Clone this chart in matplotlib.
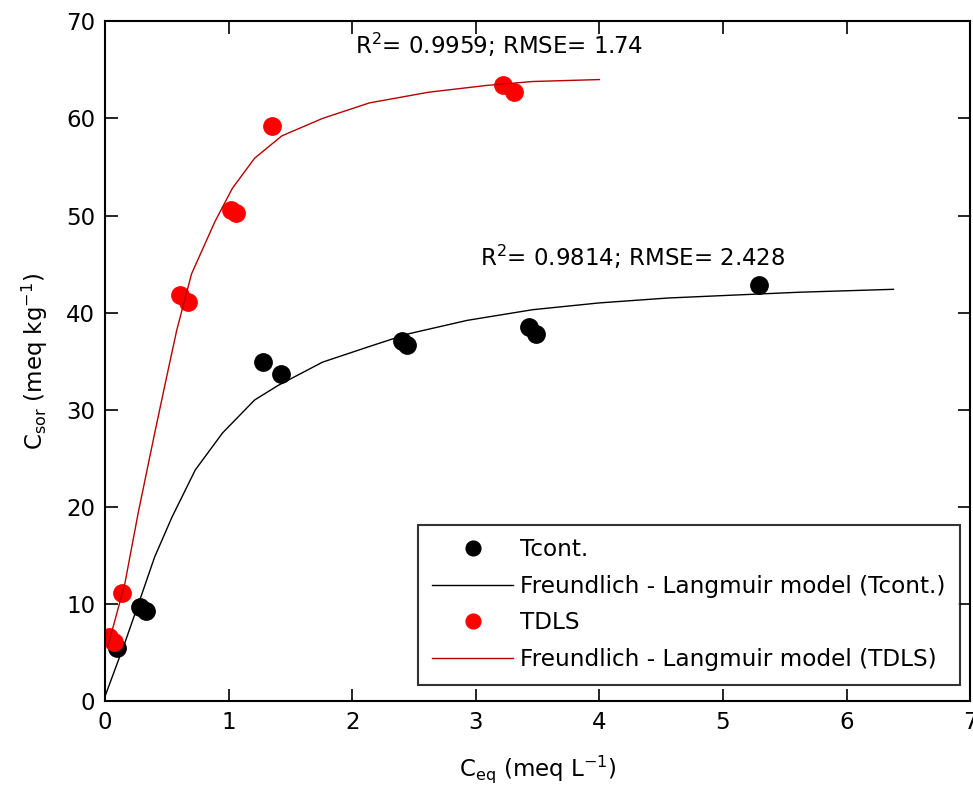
import matplotlib
matplotlib.use("Agg")
import matplotlib.pyplot as plt

plt.rcParams['font.family'] = ['DejaVu Sans']
plt.rcParams['mathtext.default'] = 'regular'

# measured points
tcont_x = [0.10, 0.28, 0.33, 1.28, 1.42, 2.40, 2.44, 3.43, 3.49, 5.29]
tcont_y = [5.5, 9.7, 9.3, 34.9, 33.7, 37.1, 36.7, 38.5, 37.8, 42.8]
tdls_x = [0.03, 0.07, 0.14, 0.61, 0.67, 1.02, 1.06, 1.35, 3.22, 3.31]
tdls_y = [6.6, 6.1, 11.1, 41.8, 41.1, 50.6, 50.3, 59.2, 63.4, 62.7]

# model curves
fit_t_x = [0.0, 0.16, 0.30, 0.40, 0.54, 0.73, 0.95, 1.21, 1.40, 1.76, 2.16,
           2.45, 2.93, 3.46, 4.0, 4.55, 5.08, 5.62, 6.38]
fit_t_y = [0.5, 6.0, 11.1, 14.8, 18.9, 23.8, 27.6, 31.0, 32.5, 34.9, 36.6,
           37.8, 39.2, 40.3, 41.0, 41.5, 41.8, 42.1, 42.4]
fit_d_x = [0.02, 0.16, 0.27, 0.40, 0.49, 0.58, 0.70, 0.89, 1.03, 1.21, 1.43,
           1.76, 2.14, 2.62, 3.09, 3.46, 4.0]
fit_d_y = [5.5, 12.1, 19.5, 27.5, 32.9, 38.2, 44.0, 49.4, 52.8, 55.9, 58.2,
           60.0, 61.6, 62.7, 63.4, 63.8, 64.0]

stats_t = "R$^2$= 0.9814; RMSE= 2.428"
stats_d = "R$^2$= 0.9959; RMSE= 1.74"

fs = 16.5

fig = plt.figure(figsize=(9.73, 7.89), dpi=100)
ax = fig.add_axes([0.108, 0.1115, 0.889, 0.8615])

ax.plot(tcont_x, tcont_y, 'o', color='k', markersize=12.5, label='Tcont.')
ax.plot(fit_t_x, fit_t_y, '-', color='k', lw=1, label='Freundlich - Langmuir model (Tcont.)')
ax.plot(tdls_x, tdls_y, 'o', color='r', markersize=12.5, label='TDLS')
ax.plot(fit_d_x, fit_d_y, '-', color='#b80000', lw=1, label='Freundlich - Langmuir model (TDLS)')

ax.text(3.03, 45.7, stats_t, fontsize=fs, va='center', ha='left')
ax.text(2.02, 67.6, stats_d, fontsize=fs, va='center', ha='left')

ax.set_xlim(0, 7)
ax.set_ylim(0, 70)
ax.tick_params(direction='in', top=True, right=True, labelsize=fs, length=9,
               width=1.2, pad=7)
for s in ax.spines.values():
    s.set_linewidth(1.5)

ax.set_xlabel('C$_{eq}$ (meq L$^{-1}$)', fontsize=fs, labelpad=14)
ax.set_ylabel('C$_{sor}$ (meq kg$^{-1}$)', fontsize=fs, labelpad=12)

leg = ax.legend(loc='lower right', bbox_to_anchor=(0.988, 0.024), fontsize=16.7,
                frameon=True, fancybox=False, edgecolor='k', labelspacing=0.58,
                handlelength=3.5, borderpad=0.6, handletextpad=0.3,
                borderaxespad=0, markerscale=0.85)
leg.get_frame().set_linewidth(1.5)

fig.savefig('out.png', dpi=100)
